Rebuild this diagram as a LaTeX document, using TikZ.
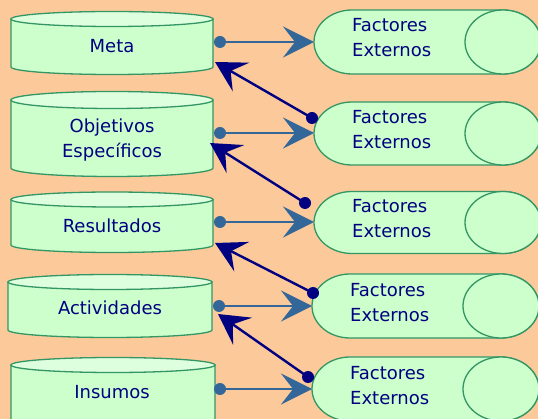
\documentclass[tikz,border=0pt]{standalone}
\usepackage{fontspec}
\setmainfont{DejaVu Sans}
\usetikzlibrary{arrows.meta}
\definecolor{peach}{RGB}{252,202,154}
\definecolor{mint}{RGB}{204,255,204}
\definecolor{mintlight}{RGB}{221,255,221}
\definecolor{edgegreen}{RGB}{51,150,100}
\definecolor{steel}{RGB}{51,102,153}
\definecolor{ink}{RGB}{0,0,128}
\tikzset{
  cyl/.style={draw=edgegreen, line width=1.3pt, fill=mint},
  cyltop/.style={draw=edgegreen, line width=1.3pt, fill=mintlight},
  label/.style={text=ink, font=\fontsize{18}{25.5}\selectfont, inner sep=0pt, align=center},
  rlabel/.style={text=ink, font=\fontsize{18}{25.5}\selectfont, inner sep=0pt, align=left, anchor=west},
  feed/.style={draw=steel, line width=2.2pt, -{Stealth[length=31pt, width=31pt, inset=12pt]}},
  back/.style={draw=ink, line width=2.4pt, -{Stealth[length=30pt, width=33pt, inset=12pt]}},
  sdot/.style={fill=steel, draw=none},
  ndot/.style={fill=ink, draw=none},
}
% vertical cylinder: left x, right x, top centre y, bottom centre y, radius y
\newcommand{\vcyl}[5]{%
  \path[cyl] (#1,#3) -- (#1,#4) arc[start angle=180, end angle=0, x radius={(#2-#1)/2}, y radius=#5] -- (#2,#3) -- cycle;
  \path[cyltop] ({(#1+#2)/2},#3) ellipse[x radius={(#2-#1)/2}, y radius=#5];
}
% horizontal cylinder: left cap centre x, right end centre x, centre y, radius y, radius x
\newcommand{\hcyl}[5]{%
  \path[cyl] (#2,#3-#4) -- (#1,#3-#4) arc[start angle=270, end angle=90, x radius=#5, y radius=#4] -- (#2,#3+#4) arc[start angle=90, end angle=-90, x radius=#5, y radius=#4] -- cycle;
  \path[cyl] (#2,#3) ellipse[x radius=#5, y radius=#4];
}
\begin{document}
\begin{tikzpicture}[x=1pt, y=-1pt]
\useasboundingbox (0,0) rectangle (538,419);
\fill[peach] (0,0) rectangle (538,419);
\begin{scope}
\clip (0,0) rectangle (538,419);
% levels on the left
\vcyl{11}{213}{19}{67}{7.5}
\vcyl{11}{213}{100}{168}{8.5}
\vcyl{11}{213}{199.5}{245}{7.5}
\vcyl{8}{212}{282}{330}{7.5}
\vcyl{11}{215}{365}{440}{7.5}
% external factors on the right
\hcyl{352}{503}{42}{32}{38}
\hcyl{352}{503}{133.5}{31.5}{38}
\hcyl{352}{503}{222.5}{31}{38}
\hcyl{350}{501}{306}{32}{38}
\hcyl{350}{501}{389}{32}{38}
\end{scope}
% texts
\node[label] (meta) at (112,46) {Meta};
\node[label] (obj) at (112,140) {Objetivos\\Específicos};
\node[label] (res) at (112,226) {Resultados};
\node[label] (act) at (110,308) {Actividades};
\node[label] (ins) at (112,392) {Insumos};
\node[rlabel] (f1) at (352,37.5) {Factores\\Externos};
\node[rlabel] (f2) at (352,129.5) {Factores\\Externos};
\node[rlabel] (f3) at (352,218.5) {Factores\\Externos};
\node[rlabel] (f4) at (350,302.5) {Factores\\Externos};
\node[rlabel] (f5) at (350,385.5) {Factores\\Externos};
% connector end points
\coordinate (m1) at (220,42);   \coordinate (e1) at (314,42);
\coordinate (m2) at (220,133);  \coordinate (e2) at (314,133);
\coordinate (m3) at (220,222);  \coordinate (e3) at (314,222);
\coordinate (m4) at (219,306);  \coordinate (e4) at (312,306);
\coordinate (m5) at (220,389);  \coordinate (e5) at (312,389);
\coordinate (b1) at (312,118);  \coordinate (t1) at (215,62);
\coordinate (b2) at (305,203);  \coordinate (t2) at (210,143);
\coordinate (b3) at (313,293);  \coordinate (t3) at (215,243);
\coordinate (b4) at (308,377);  \coordinate (t4) at (218,314);
% feeds from each level to its external factors
\foreach \i in {1,...,5} {
  \draw[feed] (m\i) -- (e\i);
  \fill[sdot] (m\i) circle[radius=6];
}
% influence of external factors back on the level above
\foreach \i in {1,...,4} {
  \draw[back] (b\i) -- (t\i);
  \fill[ndot] (b\i) circle[radius=6];
}
\end{tikzpicture}
\end{document}
